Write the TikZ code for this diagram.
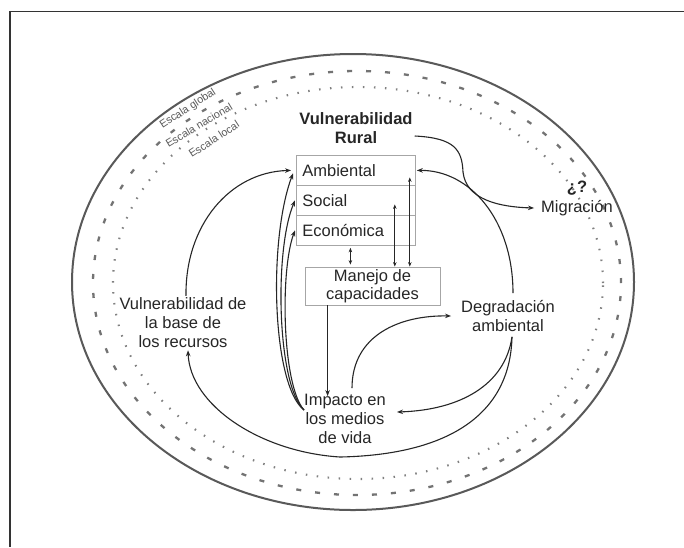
\documentclass[tikz,border=0pt]{standalone}
\usepackage{fontspec}
\setmainfont{Liberation Sans}
\usetikzlibrary{arrows.meta}
\begin{document}
\begin{tikzpicture}[x=1pt,y=-1pt,
  txt/.style={font=\fontsize{16.5}{19}\selectfont, text=black!85, align=center, inner sep=2pt},
  btxt/.style={txt, font=\bfseries\fontsize{16.5}{19}\selectfont},
  lbl/.style={font=\fontsize{10.8}{12}\selectfont, text=black!65, inner sep=0pt},
  cbox/.style={draw=black!35, line width=0.8pt, minimum height=30pt, text width=107pt, align=left, inner xsep=6pt, inner ysep=0pt, font=\fontsize{16.5}{19}\selectfont, text=black!85, anchor=north west},
  mbox/.style={draw=black!35, line width=0.8pt, minimum width=135pt, minimum height=38pt, align=center, inner sep=0pt, font=\fontsize{16.5}{18}\selectfont, text=black!85},
  arr/.style={draw=black!85, line width=1.1pt, -{Stealth[length=6pt,width=4.5pt]}},
  darr/.style={draw=black!85, line width=0.7pt, {Stealth[length=4.5pt,width=3.5pt]}-{Stealth[length=4.5pt,width=3.5pt]}},
  ring/.style={draw=black!65, line width=2pt},
  dring/.style={draw=black!55, line width=2.3pt, dash pattern=on 5pt off 14pt},
  pring/.style={draw=black!50, line width=2.1pt, dash pattern=on 1.5pt off 9.5pt},
]
\useasboundingbox (0,0) rectangle (684,547);
\fill[white] (0,0) rectangle (684,547);
% frame
\draw[black!80, line width=1.6pt] (684,11.5) -- (10,11.5) -- (10,547);
% scale rings
\draw[ring] (353,282) ellipse [x radius=281pt, y radius=228pt];
\draw[dring] (357,283) ellipse [x radius=264pt, y radius=212pt];
\draw[pring] (358,283) ellipse [x radius=245pt, y radius=196pt];
% scale labels
\node[lbl, rotate=33] (eg) at (188,109) {Escala global};
\node[lbl, rotate=31] (en) at (199,125) {Escala nacional};
\node[lbl, rotate=33] (el) at (214,139) {Escala local};
% nodes
\node[btxt] (vr) at (356,128) {Vulnerabilidad\\Rural};
\node[cbox] (amb) at (296,155) {Ambiental};
\node[cbox] (soc) at (296,185) {Social};
\node[cbox] (eco) at (296,215) {Económica};
\node[mbox] (man) at (372.5,286) {Manejo de\\capacidades};
\node[txt] (imp) at (345,419) {Impacto en\\los medios\\de vida};
\node[txt] (deg) at (508,316) {Degradación\\ambiental};
\node[txt] (vbr) at (183,323) {Vulnerabilidad de\\la base de\\los recursos};
\node[btxt] (q) at (577,188) {¿?};
\node[txt] (mig) at (577,208) {Migración};
% migration
\draw[arr] ([yshift=-8pt]vr.east) .. controls (455,138) and (462,150) .. (463,172) .. controls (466,200) and (500,207) .. ([xshift=-5pt]mig.west);
% degradation -> ambiental
\draw[arr] ([xshift=5pt,yshift=5pt]deg.north) .. controls (513,220) and (470,170) .. ([xshift=1pt]amb.east);
% degradation -> impacto
\draw[arr] ([xshift=4pt,yshift=-3pt]deg.south) .. controls (505,385) and (460,410) .. ([xshift=9pt,yshift=7pt]imp.east);
% degradation -> vulnerabilidad base
\draw[arr] ([xshift=4pt,yshift=-3pt]deg.south) .. controls (510,420) and (440,455) .. (340,457) .. controls (260,452) and (190,405) .. ([xshift=5pt]vbr.south);
% vulnerabilidad base -> ambiental
\draw[arr] ([xshift=3pt]vbr.north) .. controls (185,225) and (230,172) .. ([xshift=-5pt]amb.west);
% impacto -> boxes
\coordinate (i0) at ([xshift=2pt,yshift=9pt]imp.west);
\draw[arr] (i0) .. controls (272,385) and (268,240) .. ([xshift=-3pt,yshift=-3pt]amb.west);
\draw[arr] (i0) .. controls (277,385) and (274,250) .. ([xshift=-1pt]soc.west);
\draw[arr] (i0) .. controls (282,385) and (280,270) .. ([xshift=-1pt]eco.west);
% manejo -> impacto
\coordinate (m1) at ([xshift=23pt]man.south west);
\draw[arr, shorten >=-4pt] (m1) -- (m1 |- imp.north);
% impacto -> degradacion
\draw[arr] ([xshift=7pt,yshift=4pt]imp.north) .. controls (352,335) and (400,315) .. ([xshift=-8pt]deg.west);
% inner double arrows
\coordinate (e1) at ([xshift=-5.5pt,yshift=-2pt]eco.south);
\coordinate (s1) at ([xshift=-21pt,yshift=-4pt]soc.east);
\coordinate (a1) at ([xshift=-6pt,yshift=-7pt]amb.east);
\draw[darr, shorten >=2pt] (e1) -- (e1 |- man.north);
\draw[darr] (s1) -- (s1 |- man.north);
\draw[darr] (a1) -- (a1 |- man.north);
\end{tikzpicture}
\end{document}
